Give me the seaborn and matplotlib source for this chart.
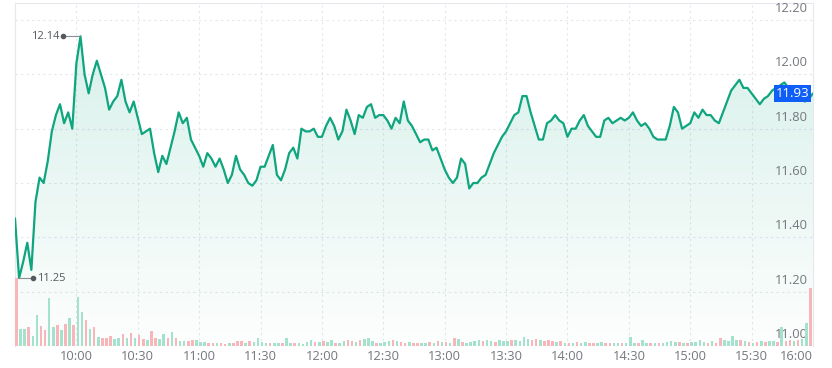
import numpy as np
import pandas as pd
import matplotlib
matplotlib.use("Agg")
import matplotlib.pyplot as plt
import seaborn as sns
from matplotlib.patches import Polygon

sns.set_theme(style="white")
plt.rcParams["font.family"] = ["Open Sans", "DejaVu Sans"]

# price every 2 minutes from 9:30 (minute 0) to 16:00 (minute 390)
price = [
    11.47, 11.25, 11.31, 11.38, 11.28, 11.53, 11.62, 11.60, 11.68, 11.79,
    11.85, 11.89, 11.82, 11.86, 11.80, 12.04, 12.14, 12.00, 11.93, 12.00,
    12.05, 12.00, 11.95, 11.87, 11.90, 11.92, 11.98, 11.90, 11.86, 11.90,
    11.84, 11.78, 11.79, 11.80, 11.71, 11.64, 11.70, 11.67, 11.73, 11.79,
    11.86, 11.82, 11.84, 11.76, 11.73, 11.70, 11.66, 11.71, 11.69, 11.66,
    11.69, 11.65, 11.60, 11.63, 11.70, 11.65, 11.63, 11.60, 11.59, 11.61,
    11.66, 11.66, 11.70, 11.74, 11.63, 11.61, 11.65, 11.71, 11.73, 11.69,
    11.80, 11.79, 11.79, 11.80, 11.77, 11.77, 11.81, 11.84, 11.81, 11.76,
    11.79, 11.87, 11.83, 11.78, 11.85, 11.84, 11.88, 11.89, 11.84, 11.85,
    11.85, 11.83, 11.80, 11.84, 11.82, 11.90, 11.83, 11.81, 11.78, 11.75,
    11.76, 11.76, 11.72, 11.73, 11.69, 11.65, 11.62, 11.60, 11.62, 11.69,
    11.67, 11.58, 11.60, 11.60, 11.62, 11.63, 11.67, 11.71, 11.74, 11.77,
    11.79, 11.82, 11.85, 11.86, 11.92, 11.92, 11.86, 11.81, 11.76, 11.76,
    11.82, 11.83, 11.85, 11.83, 11.82, 11.77, 11.80, 11.80, 11.83, 11.85,
    11.81, 11.79, 11.77, 11.77, 11.83, 11.84, 11.82, 11.83, 11.84, 11.83,
    11.84, 11.86, 11.83, 11.81, 11.82, 11.80, 11.77, 11.76, 11.76, 11.76,
    11.81, 11.88, 11.86, 11.80, 11.81, 11.82, 11.86, 11.84, 11.87, 11.85,
    11.85, 11.83, 11.82, 11.86, 11.90, 11.94, 11.96, 11.98, 11.95, 11.95,
    11.93, 11.91, 11.89, 11.91, 11.92, 11.94, 11.95, 11.96, 11.97, 11.95,
    11.93, 11.92, 11.91, 11.90, 11.91, 11.93,
]
minutes = list(range(0, 391, 2))

# volume per 2-minute bucket (thousands) and bar direction
volume = [
    69, 17, 17, 19, 10, 31, 20, 16, 49, 19,
    21, 16, 22, 28, 21, 50, 35, 26, 17, 19,
    9, 8, 8, 10, 7, 8, 12, 8, 13, 8,
    11, 7, 6, 15, 8, 7, 12, 8, 14, 8,
    5, 5, 5, 6, 6, 4, 4, 3, 3, 3,
    3, 2, 3, 3, 5, 5, 3, 5, 4, 8,
    4, 3, 3, 3, 3, 3, 8, 3, 3, 3,
    2, 4, 6, 4, 4, 5, 4, 6, 3, 3,
    5, 6, 5, 4, 6, 7, 8, 5, 3, 3,
    4, 5, 6, 5, 4, 3, 4, 3, 3, 3,
    3, 4, 3, 5, 4, 4, 3, 8, 7, 4,
    3, 4, 5, 6, 5, 6, 5, 4, 6, 5,
    5, 6, 6, 5, 9, 7, 6, 7, 6, 5,
    6, 5, 4, 5, 3, 3, 3, 4, 3, 4,
    3, 3, 3, 4, 3, 3, 3, 3, 3, 3,
    9, 3, 3, 6, 3, 3, 3, 3, 3, 4,
    5, 4, 4, 3, 3, 4, 4, 6, 4, 3,
    5, 3, 8, 6, 5, 10, 6, 6, 5, 4,
    3, 4, 5, 4, 5, 5, 4, 19, 5, 6,
    5, 6, 7, 23, 59,
]
direction = list(
    "RGGRGGRRGG" "RGRGRGGRGR" "GRRRGGRGRG" "RRGRRGGRGR" "GGRRGGGRRG"
    "RRGRRRGRGG" "GGRGGRGGRG" "GGGRGRGGRG" "GRRGRGGGRG" "GGRGRRGRRG"
    "GRGRGRGRGR" "GGGGRGGRGG" "GRGGGGRRGR" "RRGRGRGRGG" "RRGGRRGGRG"
    "GGRGGRGRGG" "GGRGRGGGGR" "GRRGGGGRGR" "GRGRGGRGRR" "GRGGR"
)
vol_minutes = list(range(0, 390, 2))

xtick_pos = [30, 60, 90, 120, 150, 180, 210, 240, 270, 300, 330, 360, 390]
xtick_labels = ["10:00", "10:30", "11:00", "11:30", "12:00", "12:30", "13:00",
                "13:30", "14:00", "14:30", "15:00", "15:30", "16:00"]
yticks = [11.0, 11.2, 11.4, 11.6, 11.8, 12.0, 12.2]
last_price = 11.93

LINE = "#0ea57f"
GRID = "#e3e6ec"
TXT = "#74777d"

df = pd.DataFrame({"minute": minutes, "price": price})
vol = pd.DataFrame({"minute": vol_minutes, "volume": volume, "dir": direction})

fig = plt.figure(figsize=(8.32, 3.68), dpi=100)
ax = fig.add_axes([15 / 832, 22 / 368, 798 / 832, 343 / 368])
ax.set_xlim(0, 390)
ax.set_ylim(11.0, 12.2626)

# gradient area under the line
fill = ax.fill_between(df["minute"], df["price"], 11.0, color="none", lw=0)
verts = [(0, 11.0)] + list(zip(df["minute"], df["price"])) + [(390, 11.0)]
clip = Polygon(verts, closed=True, transform=ax.transData, facecolor="none", edgecolor="none")
ax.add_patch(clip)
grad = np.zeros((256, 1, 4))
rgb = matplotlib.colors.to_rgb(LINE)
grad[:, 0, :3] = rgb
grad[:, 0, 3] = np.linspace(0.16, 0.01, 256)
im = ax.imshow(grad, extent=[0, 390, 11.0, df["price"].max()], aspect="auto",
               origin="upper", zorder=1, interpolation="bilinear")
im.set_clip_path(clip)

sns.lineplot(data=df, x="minute", y="price", ax=ax, color=LINE, linewidth=1.6, zorder=3)

# grid
for t in xtick_pos[:-1]:
    ax.axvline(t, color=GRID, lw=0.8, ls=(0, (2, 3)), zorder=0)
for t in yticks[1:]:
    ax.axhline(t, color=GRID, lw=0.8, ls=(0, (2, 3)), zorder=0)

for s in ax.spines.values():
    s.set_color("#e6e8ee")
    s.set_linewidth(0.8)
ax.spines["bottom"].set_visible(False)

ax.set_xticks(xtick_pos)
ax.set_xticklabels(xtick_labels, color=TXT, fontsize=9.3)
ax.get_xticklabels()[-1].set_horizontalalignment("right")
ax.tick_params(axis="x", length=0, pad=3)
ax.set_yticks([])
ax.set_xlabel("")
ax.set_ylabel("")

for t in yticks:
    ax.text(0.993, t + 0.018, f"{t:.2f}", transform=ax.get_yaxis_transform(),
            ha="right", va="bottom", color=TXT, fontsize=9.3, zorder=5)

# high / low markers
hi = df.loc[df["price"].idxmax()]
lo = df.loc[df["price"].idxmin()]
ax.plot([hi["minute"] - 8.3, hi["minute"]], [hi["price"]] * 2, color="#8a8d93", lw=0.8, zorder=4)
ax.plot(hi["minute"] - 8.3, hi["price"], "o", color="#55585e", ms=3, zorder=4)
ax.text(hi["minute"] - 10.2, hi["price"], f"{hi['price']:.2f}", ha="right", va="center",
        color="#55585e", fontsize=8, zorder=4)
ax.plot([0, 8.8], [lo["price"]] * 2, color="#8a8d93", lw=0.8, zorder=4)
ax.plot(8.8, lo["price"], "o", color="#55585e", ms=3, zorder=4)
ax.text(10.6, lo["price"], f"{lo['price']:.2f}", ha="left", va="center",
        color="#55585e", fontsize=8, zorder=4)

# last price tag
ax.text(0.9955, last_price, f"{last_price:.2f}", transform=ax.get_yaxis_transform(),
        ha="right", va="center", color="white", fontsize=9.5, zorder=6,
        bbox=dict(boxstyle="square,pad=0.15", facecolor="#0f5ef7", edgecolor="none"))

# volume bars
ax2 = ax.twinx()
colors = vol["dir"].map({"G": "#a3e2cd", "R": "#f8b6ba"})
ax2.bar(vol["minute"] + 0.7, vol["volume"], width=1.25, color=colors, linewidth=0)
ax2.set_ylim(0, max(volume) * 343 / 68)
ax2.set_yticks([])
for s in ax2.spines.values():
    s.set_visible(False)

fig.savefig("out.png", dpi=100, facecolor="white")
